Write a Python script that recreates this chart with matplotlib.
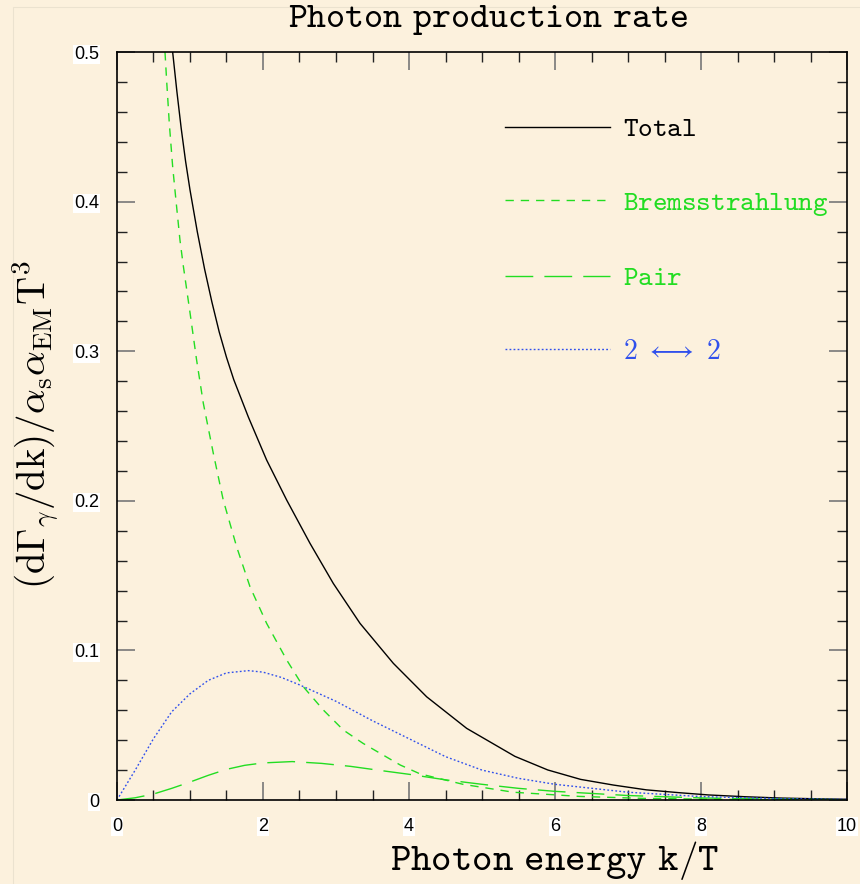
import numpy as np
import matplotlib
matplotlib.use("Agg")
import matplotlib.pyplot as plt
from matplotlib.patches import Rectangle

plt.rcParams["mathtext.fontset"] = "cm"

# ── values ────────────────────────────────────────────────────────────────────
k_total = [0.763, 0.82, 0.88, 0.94, 1.0, 1.1, 1.2, 1.3, 1.4, 1.5, 1.6, 1.8,
           2.05, 2.325, 2.644, 2.963, 3.329, 3.785, 4.242, 4.79, 5.45, 5.9,
           6.35, 6.8, 7.25, 7.7, 8.1, 8.6, 9.1, 9.6, 10.0]
total = [0.50, 0.474, 0.449, 0.427, 0.408, 0.380, 0.355, 0.333, 0.313, 0.296,
         0.281, 0.256, 0.2273, 0.2005, 0.1716, 0.1448, 0.1181, 0.0914, 0.069,
         0.0479, 0.0292, 0.0201, 0.0138, 0.0100, 0.0068, 0.0049, 0.0034,
         0.0022, 0.0013, 0.0008, 0.0005]

k_brems = [0.658, 0.68, 0.717, 0.763, 0.808, 0.863, 0.909, 1.0, 1.091, 1.183,
           1.32, 1.456, 1.639, 1.822, 2.05, 2.325, 2.553, 2.826, 3.1, 3.37,
           3.88, 4.15, 4.74, 5.43, 6.34, 7.2, 8.2, 9.2, 10.0]
brems = [0.50, 0.4813, 0.4523, 0.4234, 0.401, 0.3743, 0.357, 0.326, 0.2941,
         0.2652, 0.2317, 0.2005, 0.1693, 0.1426, 0.1181, 0.0936, 0.0757, 0.0602,
         0.0468, 0.0379, 0.0234, 0.0175, 0.0105, 0.0052, 0.0024, 0.0011,
         0.0005, 0.0002, 0.0001]

k_pair = [0.0, 0.25, 0.5, 0.75, 1.0, 1.25, 1.5, 1.75, 2.0, 2.4, 2.8, 3.2, 3.6,
          4.0, 4.5, 5.0, 5.5, 6.0, 7.0, 8.0, 9.0, 10.0]
pair = [0.0, 0.0015, 0.004, 0.0078, 0.012, 0.0165, 0.0205, 0.0232, 0.0248,
        0.0257, 0.0245, 0.0225, 0.0198, 0.0172, 0.0135, 0.0105, 0.0078, 0.0058,
        0.003, 0.0014, 0.0006, 0.0002]

k_22 = [0.0, 0.1, 0.25, 0.5, 0.75, 1.0, 1.25, 1.5, 1.8, 2.0, 2.25, 2.5, 3.0,
        3.5, 4.0, 4.5, 5.0, 5.5, 6.0, 7.0, 8.0, 9.0, 10.0]
two2 = [0.0, 0.008, 0.020, 0.041, 0.059, 0.071, 0.080, 0.085, 0.0865, 0.0855,
        0.082, 0.077, 0.066, 0.053, 0.041, 0.029, 0.020, 0.0145, 0.0105, 0.0052,
        0.0023, 0.001, 0.0004]

x_ticks = [0, 2, 4, 6, 8, 10]
y_ticks = [0, 0.1, 0.2, 0.3, 0.4, 0.5]
x_ticklabels = ["0", "2", "4", "6", "8", "10"]
y_ticklabels = ["0", "0.1", "0.2", "0.3", "0.4", "0.5"]

labels = [r"$\mathtt{Total}$", r"$\mathtt{Bremsstrahlung}$", r"$\mathtt{Pair}$",
          r"$\mathtt{2}\ \longleftrightarrow\ \mathtt{2}$"]

bg = "#fcf1dd"
green = "#22dd22"
blue = "#3050ec"


def main():
    fig = plt.figure(figsize=(8.6, 8.84), dpi=100, facecolor=bg)
    ax = fig.add_axes([0.136, 0.095, 0.849, 0.846], facecolor=bg)

    # faint frame round the whole picture
    fig.patches.append(Rectangle((0.015, -0.01), 1.0, 1.002, transform=fig.transFigure,
                                 fill=False, edgecolor="#ebe2cf", linewidth=0.8))

    l1, = ax.plot(k_total, total, color="black", lw=1.0)
    l2, = ax.plot(k_brems, brems, color=green, lw=1.0, dashes=(6, 5))
    l3, = ax.plot(k_pair, pair, color=green, lw=1.0, dashes=(20, 8))
    l4, = ax.plot(k_22, two2, color=blue, lw=1.0, dashes=(1.3, 1.6))

    ax.set_xlim(0, 10)
    ax.set_ylim(0, 0.5)

    ax.set_xticks(x_ticks)
    ax.set_xticklabels(x_ticklabels)
    ax.set_xticks(np.arange(0, 10.01, 0.5), minor=True)
    ax.set_yticks(y_ticks)
    ax.set_yticklabels(y_ticklabels)
    ax.set_yticks(np.arange(0, 0.501, 0.02), minor=True)

    ax.tick_params(which="both", direction="in", top=True, right=True)
    ax.tick_params(which="major", length=13, width=1.2, color="#777777", pad=13,
                   labelsize=13)
    ax.tick_params(which="minor", length=7, width=1.0, color="#222222")
    for lab in ax.get_xticklabels() + ax.get_yticklabels():
        lab.set_fontfamily("Liberation Sans")
        lab.set_bbox(dict(facecolor="white", edgecolor="none", pad=0.6))
    for sp in ax.spines.values():
        sp.set_linewidth(1.2)

    leg = ax.legend([l1, l2, l3, l4], labels, loc="upper left",
                    bbox_to_anchor=(0.531, 0.917), frameon=False, fontsize=20,
                    handlelength=3.78, handletextpad=0.47, labelspacing=1.64,
                    borderpad=0, borderaxespad=0)
    for txt, c in zip(leg.get_texts(), ["black", green, green, blue]):
        txt.set_color(c)

    fig.text(0.567, 0.977, r"$\mathtt{Photon\ production\ rate}$", ha="center",
             va="center", fontsize=26)
    fig.text(0.645, 0.027, r"$\mathtt{Photon\ energy\ k/T}$", ha="center",
             va="center", fontsize=28)
    fig.text(0.04, 0.519,
             r"$(\mathrm{d}\Gamma_\gamma/\mathrm{dk})/\alpha_\mathrm{s}\alpha_\mathrm{EM}\mathrm{T}^3$",
             ha="center", va="center", rotation=90, fontsize=28)

    fig.savefig("out.png", dpi=100, facecolor=bg)


if __name__ == "__main__":
    main()
